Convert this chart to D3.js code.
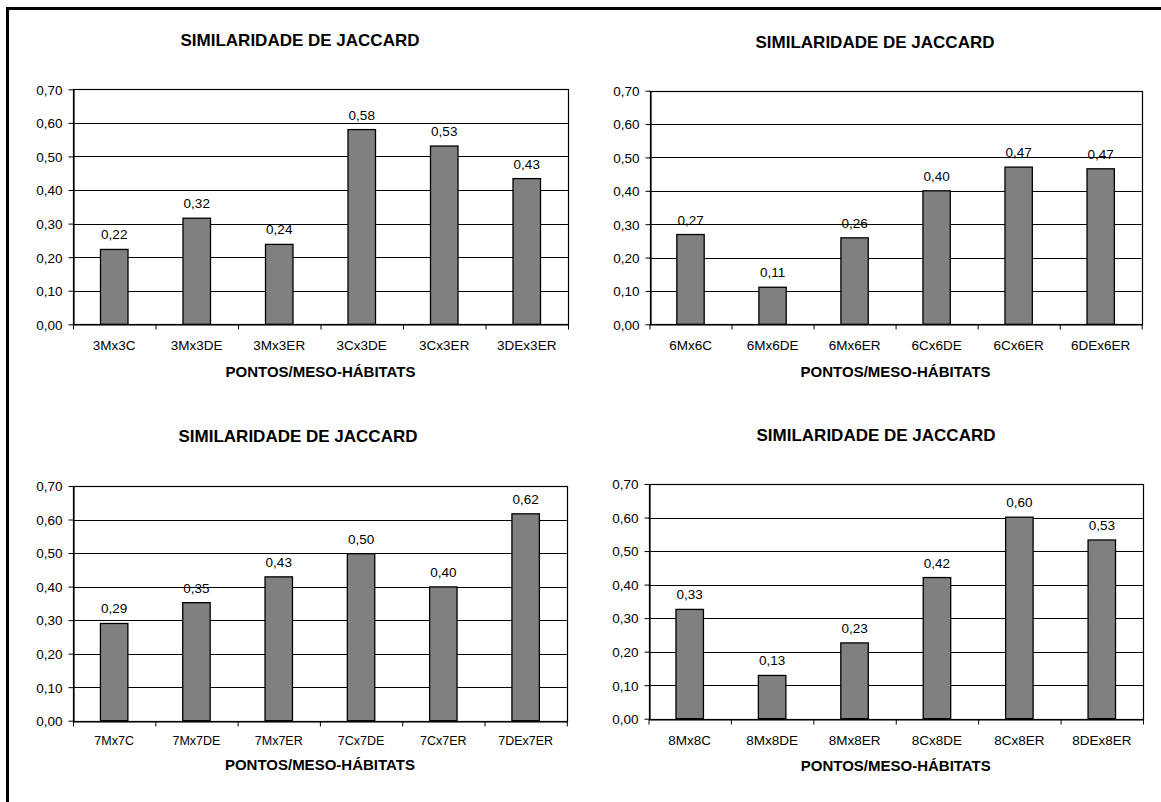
<!DOCTYPE html>
<html>
<head>
<meta charset="utf-8">
<script src="https://cdn.jsdelivr.net/npm/d3@7"></script>
<style>
  body { margin: 0; background: #fff; }
  svg { display: block; }
  text { font-family: "Liberation Sans", Arial, sans-serif; fill: #000; }
</style>
</head>
<body>
<svg id="chart" width="1161" height="802"></svg>
<script>
// Texts shared by the four panels
const chartTitle = "SIMILARIDADE DE JACCARD";
const axisTitle = "PONTOS/MESO-HÁBITATS";

// Y axis tick values (0,00 … 0,70)
const yTickValues = [0, 0.1, 0.2, 0.3, 0.4, 0.5, 0.6, 0.7];

// Point 3
const categories3 = ["3Mx3C", "3Mx3DE", "3Mx3ER", "3Cx3DE", "3Cx3ER", "3DEx3ER"];
const values3 = [0.223, 0.316, 0.238, 0.580, 0.531, 0.434];

// Point 6
const categories6 = ["6Mx6C", "6Mx6DE", "6Mx6ER", "6Cx6DE", "6Cx6ER", "6DEx6ER"];
const values6 = [0.269, 0.111, 0.259, 0.400, 0.471, 0.466];

// Point 7
const categories7 = ["7Mx7C", "7Mx7DE", "7Mx7ER", "7Cx7DE", "7Cx7ER", "7DEx7ER"];
const values7 = [0.290, 0.352, 0.429, 0.498, 0.399, 0.617];

// Point 8
const categories8 = ["8Mx8C", "8Mx8DE", "8Mx8ER", "8Cx8DE", "8Cx8ER", "8DEx8ER"];
const values8 = [0.326, 0.129, 0.226, 0.421, 0.601, 0.533];

// Decimal comma formatting
const fmt = v => d3.format(".2f")(v).replace(".", ",");

// Layout of each panel on the page
const panels = [
  { cats: categories3, vals: values3, x0: 73,    x1: 568,    yTop: 89.3, yBot: 324.3,
    titleX: 300, titleY: 45.5, labelY: 350.4, axisTitleY: 377,   catFont: 13.5 },
  { cats: categories6, vals: values6, x0: 649.5, x1: 1141.7, yTop: 90.7, yBot: 324.3,
    titleX: 875, titleY: 47.8, labelY: 350.4, axisTitleY: 377,   catFont: 13.5 },
  { cats: categories7, vals: values7, x0: 73,    x1: 566.8,  yTop: 486,  yBot: 720.7,
    titleX: 298, titleY: 442,  labelY: 744.7, axisTitleY: 770.4, catFont: 12.5 },
  { cats: categories8, vals: values8, x0: 648.5, x1: 1143,   yTop: 484,  yBot: 718.7,
    titleX: 876, titleY: 441,  labelY: 744.7, axisTitleY: 771.4, catFont: 13.5 }
];

const svg = d3.select("#chart");

// Page frame (left and top edges)
svg.append("path")
  .attr("d", d3.line()([[7.5, 802], [7.5, 8.5], [1161, 8.5]]))
  .attr("fill", "none")
  .attr("stroke", "#000")
  .attr("stroke-width", 3);

panels.forEach(p => {
  const g = svg.append("g");

  const y = d3.scaleLinear().domain([0, 0.7]).range([p.yBot, p.yTop]);
  const x = d3.scaleBand().domain(p.cats).range([p.x0, p.x1])
    .paddingInner(2 / 3).paddingOuter(1 / 3);
  const xIdx = d3.scaleLinear().domain([0, p.cats.length]).range([p.x0, p.x1]);

  // Horizontal gridlines
  g.append("g")
    .selectAll("line")
    .data(yTickValues.filter(v => v > 0))
    .join("line")
    .attr("x1", p.x0).attr("x2", p.x1)
    .attr("y1", d => Math.round(y(d)) + 0.5)
    .attr("y2", d => Math.round(y(d)) + 0.5)
    .attr("stroke", "#000")
    .attr("stroke-width", 1);

  // Plot area outline
  g.append("rect")
    .attr("x", Math.round(p.x0) + 0.5)
    .attr("y", Math.round(p.yTop) + 0.5)
    .attr("width", Math.round(p.x1) - Math.round(p.x0))
    .attr("height", Math.round(p.yBot) - Math.round(p.yTop))
    .attr("fill", "none")
    .attr("stroke", "#000")
    .attr("stroke-width", 1.2);

  // Bars
  g.append("g")
    .selectAll("rect")
    .data(p.cats.map((c, i) => ({ c, v: p.vals[i] })))
    .join("rect")
    .attr("x", d => x(d.c))
    .attr("y", d => y(d.v))
    .attr("width", x.bandwidth())
    .attr("height", d => y(0) - y(d.v))
    .attr("fill", "#808080")
    .attr("stroke", "#000")
    .attr("stroke-width", 1.3);

  // Value labels above bars
  g.append("g")
    .selectAll("text")
    .data(p.cats.map((c, i) => ({ c, v: p.vals[i] })))
    .join("text")
    .attr("x", d => x(d.c) + x.bandwidth() / 2)
    .attr("y", d => y(d.v) - 10)
    .attr("text-anchor", "middle")
    .style("font-size", "13.5px")
    .text(d => fmt(d.v));

  // Y axis
  const yAxis = g.append("g")
    .attr("transform", `translate(${Math.round(p.x0) + 0.5},0)`)
    .call(d3.axisLeft(y).tickValues(yTickValues).tickFormat(fmt).tickSize(5).tickSizeOuter(0));
  yAxis.select(".domain").attr("stroke", "#000").attr("stroke-width", 1.2);
  yAxis.selectAll(".tick line").attr("stroke", "#000");
  yAxis.selectAll(".tick text")
    .attr("x", -11)
    .attr("dy", "0.36em")
    .style("font-size", "13.5px")
    .style("font-family", '"Liberation Sans", Arial, sans-serif')
    .attr("fill", "#000");

  // X axis: tick marks at category boundaries
  const xAxis = g.append("g")
    .attr("transform", `translate(0,${Math.round(p.yBot) + 0.5})`)
    .call(d3.axisBottom(xIdx).tickValues(d3.range(p.cats.length + 1)).tickFormat("").tickSize(5).tickSizeOuter(0));
  xAxis.select(".domain").attr("stroke", "#000").attr("stroke-width", 1.2);
  xAxis.selectAll(".tick line").attr("stroke", "#000");

  // Category labels
  g.append("g")
    .selectAll("text")
    .data(p.cats)
    .join("text")
    .attr("x", d => x(d) + x.bandwidth() / 2)
    .attr("y", p.labelY)
    .attr("text-anchor", "middle")
    .style("font-size", p.catFont + "px")
    .text(d => d);

  // Axis title
  g.append("text")
    .attr("x", (p.x0 + p.x1) / 2)
    .attr("y", p.axisTitleY)
    .attr("text-anchor", "middle")
    .style("font-size", "15px")
    .style("font-weight", "bold")
    .text(axisTitle);

  // Chart title
  g.append("text")
    .attr("x", p.titleX)
    .attr("y", p.titleY)
    .attr("text-anchor", "middle")
    .style("font-size", "17px")
    .style("font-weight", "bold")
    .text(chartTitle);
});
</script>
</body>
</html>
